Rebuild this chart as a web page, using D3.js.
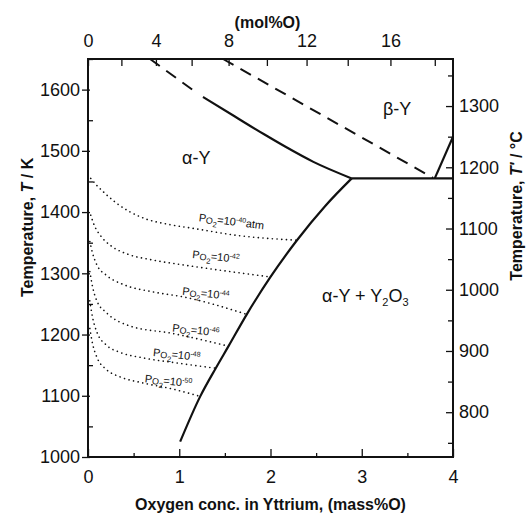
<!DOCTYPE html>
<html>
<head>
<meta charset="utf-8">
<script src="https://cdn.jsdelivr.net/npm/d3@7"></script>
<style>
  body { margin: 0; background: #fff; }
  svg text { font-family: Arial, "Liberation Sans", sans-serif; fill: #111; }
</style>
</head>
<body>
<div id="chart"></div>
<script>
// axis ticks
const massTicks = [0, 1, 2, 3, 4];
const massMinor = [0.5, 1.5, 2.5, 3.5];
const kTicks = [1000, 1100, 1200, 1300, 1400, 1500, 1600];
const kMinor = [1050, 1150, 1250, 1350, 1450, 1550, 1650];
const cTicks = [800, 900, 1000, 1100, 1200, 1300];
const cMinor = [750, 850, 950, 1050, 1150, 1250, 1350];
const molTicks = [0, 4, 8, 12, 16];
const molMinor = [2, 6, 10, 14, 18];

// phase boundaries [mass%O, T/K]
const alphaBetaDash = [[0.68, 1650], [1.17, 1597]];
const alphaBetaSolid = [[1.26, 1588], [1.61, 1556], [1.93, 1527], [2.16, 1507], [2.47, 1482], [2.89, 1455]];
const betaDash = [[1.48, 1650], [3.78, 1456]];
const betaRight = [[3.80, 1455], [4.0, 1523]];
const eutectoid = [[2.89, 1455], [4.0, 1455]];
const solvus = [[1.01, 1025], [1.23, 1099], [1.40, 1145], [1.54, 1181], [1.74, 1233], [2.0, 1294], [2.29, 1354], [2.6, 1410], [2.89, 1455]];

// equilibrium oxygen partial pressure curves
const po2Exp = ["-40", "-42", "-44", "-46", "-48", "-50"];
const po2Curves = [
  [[0.03, 1455], [0.1, 1443], [0.19, 1430], [0.30, 1416], [0.44, 1402], [0.63, 1389], [0.88, 1380], [1.17, 1373], [1.63, 1362], [2.29, 1354]],
  [[0.03, 1395], [0.07, 1378], [0.14, 1361], [0.26, 1344], [0.44, 1331], [0.7, 1322], [1.03, 1314], [1.45, 1305], [2.0, 1294]],
  [[0.02, 1352], [0.05, 1333], [0.1, 1313], [0.2, 1297], [0.4, 1281], [0.7, 1270], [1.06, 1261], [1.74, 1233]],
  [[0.02, 1303], [0.05, 1278], [0.1, 1254], [0.2, 1236], [0.46, 1214], [0.92, 1202], [1.54, 1181]],
  [[0.02, 1255], [0.05, 1228], [0.1, 1203], [0.2, 1183], [0.35, 1171], [0.6, 1162], [1.0, 1153], [1.40, 1145]],
  [[0.02, 1210], [0.05, 1185], [0.1, 1162], [0.2, 1143], [0.35, 1131], [0.6, 1121], [0.9, 1112], [1.23, 1099]]
];
// label anchor [mass%O, T/K] and tilt
const po2LabelPos = [[1.21, 1385], [1.14, 1325], [1.03, 1265], [0.92, 1205], [0.71, 1165], [0.62, 1122]];
const po2Tilt = [7, 6, 6, 6, 6, 6];

const width = 527, height = 516;
const margin = {left: 88, right: 74, top: 59, bottom: 59};

const svg = d3.select("#chart").append("svg")
  .attr("width", width)
  .attr("height", height);

let x = d3.scaleLinear().domain([0, 4]).range([margin.left, width - margin.right]);
let y = d3.scaleLinear().domain([1000, 1650]).range([height - margin.bottom, margin.top]);
let yC = d3.scaleLinear().domain([1000 - 273.15, 1650 - 273.15]).range([height - margin.bottom, margin.top]);

// mol% O in Y  ->  mass% O
function molToMass(m) {
  let f = m / 100;
  return 100 * 16 * f / (16 * f + 88.906 * (1 - f));
}

function styleAxis(g, fs) {
  g.select(".domain").remove();
  g.selectAll("line").attr("stroke", "#111").attr("stroke-width", 1.3);
  g.selectAll("text").style("font-size", fs + "px").style("font-family", "Arial, 'Liberation Sans', sans-serif").attr("fill", "#111");
}

// bottom axis
let bx = svg.append("g").attr("transform", `translate(0, ${y(1000)})`);
bx.call(d3.axisBottom(x).tickValues(massTicks).tickSize(-8).tickPadding(13).tickFormat(d3.format("d")));
styleAxis(bx, 18);
svg.append("g").attr("transform", `translate(0, ${y(1000)})`)
  .call(d3.axisBottom(x).tickValues(massMinor).tickSize(-4).tickFormat(""))
  .call(g => styleAxis(g, 10));

// top axis (mol%)
let tx = svg.append("g").attr("transform", `translate(0, ${y(1650)})`);
tx.call(d3.axisTop(x).tickValues(molTicks.map(molToMass)).tickSize(-7).tickPadding(12)
  .tickFormat((d, i) => molTicks[i]));
styleAxis(tx, 18);
svg.append("g").attr("transform", `translate(0, ${y(1650)})`)
  .call(d3.axisTop(x).tickValues(molMinor.map(molToMass)).tickSize(-7).tickFormat(""))
  .call(g => styleAxis(g, 10));

// left axis (K)
let ly = svg.append("g").attr("transform", `translate(${x(0)}, 0)`);
ly.call(d3.axisLeft(y).tickValues(kTicks).tickSize(6).tickPadding(2).tickFormat(d3.format("d")));
styleAxis(ly, 18);
ly.selectAll("line").attr("x1", -6).attr("x2", 2);
svg.append("g").attr("transform", `translate(${x(0)}, 0)`)
  .call(d3.axisLeft(y).tickValues(kMinor).tickSize(-5).tickFormat(""))
  .call(g => styleAxis(g, 10));

// right axis (deg C)
let ry = svg.append("g").attr("transform", `translate(${x(4)}, 0)`);
ry.call(d3.axisRight(yC).tickValues(cTicks).tickSize(-7).tickPadding(6).tickFormat(d3.format("d")));
styleAxis(ry, 18);
svg.append("g").attr("transform", `translate(${x(4)}, 0)`)
  .call(d3.axisRight(yC).tickValues(cMinor).tickSize(-5).tickFormat(""))
  .call(g => styleAxis(g, 10));

// frame
svg.append("rect")
  .attr("x", x(0)).attr("y", y(1650))
  .attr("width", x(4) - x(0)).attr("height", y(1000) - y(1650))
  .attr("fill", "none").attr("stroke", "#111").attr("stroke-width", 2);

// phase lines
let line = d3.line().x(d => x(d[0])).y(d => y(d[1]));
let smooth = d3.line().x(d => x(d[0])).y(d => y(d[1])).curve(d3.curveMonotoneX);

let lines = svg.append("g").attr("fill", "none").attr("stroke", "#111");
lines.append("path").datum(alphaBetaSolid).attr("d", smooth).attr("stroke-width", 2.2);
lines.append("path").datum(alphaBetaDash).attr("d", line).attr("stroke-width", 2).attr("stroke-dasharray", "12,8");
lines.append("path").datum(betaDash).attr("d", line).attr("stroke-width", 2).attr("stroke-dasharray", "12,8");
lines.append("path").datum(betaRight).attr("d", line).attr("stroke-width", 2.2);
lines.append("path").datum(eutectoid).attr("d", line).attr("stroke-width", 2.2);
lines.append("path").datum(solvus).attr("d", smooth).attr("stroke-width", 2.2);

lines.selectAll(".po2").data(po2Curves).enter()
  .append("path")
  .attr("class", "po2")
  .attr("d", smooth)
  .attr("stroke-width", 1.6)
  .attr("stroke-linecap", "round")
  .attr("stroke-dasharray", "0.1,4.6");

// pO2 labels
po2Exp.forEach(function(e, i) {
  let px = x(po2LabelPos[i][0]), py = y(po2LabelPos[i][1]);
  let t = svg.append("text")
    .attr("transform", `translate(${px}, ${py}) rotate(${po2Tilt[i]})`)
    .style("font-size", "11px");
  t.append("tspan").text("P");
  t.append("tspan").attr("dy", 1).style("font-size", "9px").text("O");
  t.append("tspan").attr("dy", 3).style("font-size", "7.5px").text("2");
  t.append("tspan").attr("dy", -4).text("=10");
  t.append("tspan").attr("dy", -4).style("font-size", "7px").text(e);
  if (i === 0) t.append("tspan").attr("dy", 4).text("atm");
});

// region labels
svg.append("text").attr("x", 182).attr("y", 164).style("font-size", "18px").text("α-Y");
svg.append("text").attr("x", 383).attr("y", 115).style("font-size", "18px").text("β-Y");
let ay = svg.append("text").attr("x", 322).attr("y", 302).style("font-size", "18px");
ay.append("tspan").text("α-Y + Y");
ay.append("tspan").attr("dy", 4).style("font-size", "11px").text("2");
ay.append("tspan").attr("dy", -4).text("O");
ay.append("tspan").attr("dy", 4).style("font-size", "11px").text("3");

// axis titles
svg.append("text")
  .attr("transform", `translate(${(x(0) + x(4)) / 2}, 510)`)
  .style("text-anchor", "middle").style("font-size", "16px").style("font-weight", "bold")
  .text("Oxygen conc. in Yttrium, (mass%O)");

svg.append("text")
  .attr("transform", `translate(${(x(0) + x(4)) / 2 - 3}, 28)`)
  .style("text-anchor", "middle").style("font-size", "16px").style("font-weight", "bold")
  .text("(mol%O)");

let lt = svg.append("text")
  .attr("transform", `translate(33, ${y(1375)}) rotate(-90)`)
  .style("text-anchor", "middle").style("font-size", "16px").style("font-weight", "bold");
lt.append("tspan").text("Temperature, ");
lt.append("tspan").style("font-style", "italic").text("T");
lt.append("tspan").text(" / K");

let rt = svg.append("text")
  .attr("transform", `translate(522, ${y(1410)}) rotate(-90)`)
  .style("text-anchor", "middle").style("font-size", "16px").style("font-weight", "bold");
rt.append("tspan").text("Temperature, ");
rt.append("tspan").style("font-style", "italic").text("T'");
rt.append("tspan").text(" / °C");
</script>
</body>
</html>
